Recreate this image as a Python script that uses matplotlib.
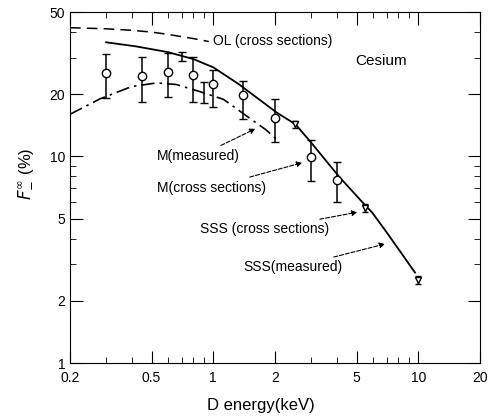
import matplotlib
matplotlib.use("Agg")
import matplotlib.pyplot as plt
from matplotlib.ticker import FixedLocator, NullFormatter

plt.rcParams["font.family"] = ["Liberation Sans", "DejaVu Sans"]

# M measured points (open circles with error bars)
circ_x = [0.3, 0.45, 0.6, 0.8, 1.0, 1.4, 2.0, 3.0, 4.0]
circ_y = [25.3, 24.5, 25.6, 24.7, 22.3, 19.8, 15.4, 9.9, 7.7]
circ_lo = [19.1, 18.3, 19.4, 18.3, 17.3, 15.1, 11.8, 7.6, 6.0]
circ_hi = [31.3, 30.2, 31.8, 30.2, 26.1, 23.1, 18.9, 12.0, 9.4]

# bare error bars
bar_x = [0.7, 0.9]
bar_y = [30.5, 20.4]
bar_lo = [29.0, 18.1]
bar_hi = [32.0, 22.9]

# SSS measured points (triangles)
tri_x = [2.5, 5.5, 10.0]
tri_y = [14.3, 5.65, 2.53]
tri_lo = [13.7, 5.4, 2.42]
tri_hi = [14.9, 5.9, 2.65]

# OL (cross sections), dashed
ol_x = [0.2, 0.3, 0.4, 0.5, 0.6, 0.7, 0.8, 0.95]
ol_y = [42.0, 41.5, 40.8, 40.0, 39.0, 38.0, 37.2, 36.0]

# solid curve
sol_x = [0.3, 0.42, 0.6, 0.8, 1.0, 1.33, 2.04, 2.52, 3.06, 4.1, 5.3, 5.96, 7.0, 9.64]
sol_y = [35.7, 34.1, 32.0, 29.6, 27.0, 22.4, 16.3, 14.3, 11.4, 8.0, 6.05, 5.35, 4.3, 2.74]

# M (measured), dash-dot
dd_x = [0.2, 0.28, 0.4, 0.53, 0.66, 0.86, 1.12, 1.28, 1.48, 1.8, 2.04]
dd_y = [16.0, 19.0, 21.8, 22.7, 22.3, 20.6, 18.9, 17.2, 15.5, 13.5, 12.1]

xticks = [0.2, 0.5, 1, 2, 5, 10, 20]
xtick_labels = ["0.2", "0.5", "1", "2", "5", "10", "20"]
yticks = [1, 2, 5, 10, 20, 50]
ytick_labels = ["1", "2", "5", "10", "20", "50"]


def yerr(y, lo, hi):
    return [[a - b for a, b in zip(y, lo)], [c - a for a, c in zip(y, hi)]]


fig = plt.figure(figsize=(4.91, 4.16), dpi=100)
ax = fig.add_axes([0.1426, 0.1274, 0.835, 0.8436])
ax.set_xscale("log")
ax.set_yscale("log")
ax.set_xlim(0.2, 20)
ax.set_ylim(1, 50)

ax.plot(ol_x, ol_y, color="black", lw=1.1, ls=(0, (7, 4)))
ax.plot(sol_x, sol_y, color="black", lw=1.3)
ax.plot(dd_x, dd_y, color="black", lw=1.2, ls=(0, (8, 3, 1.5, 3)))

ax.errorbar(circ_x, circ_y, yerr=yerr(circ_y, circ_lo, circ_hi),
            fmt="o", mfc="white", mec="black", ms=6, color="black",
            elinewidth=1.1, capsize=3, zorder=3)
ax.errorbar(bar_x, bar_y, yerr=yerr(bar_y, bar_lo, bar_hi),
            fmt="none", ecolor="black", elinewidth=1.1, capsize=3)
ax.errorbar(tri_x, tri_y, yerr=yerr(tri_y, tri_lo, tri_hi),
            fmt="v", mfc="white", mec="black", ms=5, color="black",
            elinewidth=1.0, capsize=2.5, zorder=3)

ax.set_xticks(xticks)
ax.set_xticklabels(xtick_labels)
ax.set_yticks(yticks)
ax.set_yticklabels(ytick_labels)
ax.xaxis.set_minor_locator(FixedLocator([0.3, 0.4, 0.6, 0.7, 0.8, 0.9, 3, 4, 6, 7, 8, 9]))
ax.yaxis.set_minor_locator(FixedLocator([3, 4, 6, 7, 8, 9, 30, 40]))
ax.xaxis.set_minor_formatter(NullFormatter())
ax.yaxis.set_minor_formatter(NullFormatter())
ax.tick_params(which="both", direction="in", top=True, right=True, labelsize=10)
ax.tick_params(which="major", length=9)
ax.tick_params(which="minor", length=4)
ax.tick_params(axis="x", pad=6)

ax.set_xlabel("D energy(keV)", fontsize=12)
ax.xaxis.set_label_coords(0.466, -0.1)
ax.set_ylabel(r"$F_{-}^{\infty}$ (%)", fontsize=12, labelpad=4)
ax.yaxis.set_label_coords(-0.085, 0.54)

ax.text(1.0, 36.2, "OL (cross sections)", fontsize=10, va="center", ha="left")
ax.text(6.6, 28.9, "Cesium", fontsize=11, va="center", ha="center")

arrow = dict(arrowstyle="-|>", color="black", lw=0.8, ls="--", mutation_scale=8)
ax.annotate("M(measured)", xy=(1.65, 13.8), xytext=(0.53, 10.0),
            fontsize=10, va="center", ha="left", arrowprops=arrow)
ax.annotate("M(cross sections)", xy=(2.8, 9.4), xytext=(0.53, 7.07),
            fontsize=10, va="center", ha="left", arrowprops=arrow)
ax.annotate("SSS (cross sections)", xy=(5.2, 5.4), xytext=(0.86, 4.43),
            fontsize=10, va="center", ha="left", arrowprops=arrow)
ax.annotate("SSS(measured)", xy=(7.1, 3.8), xytext=(1.4, 2.9),
            fontsize=10, va="center", ha="left", arrowprops=arrow)

fig.savefig("out.png", dpi=100)
